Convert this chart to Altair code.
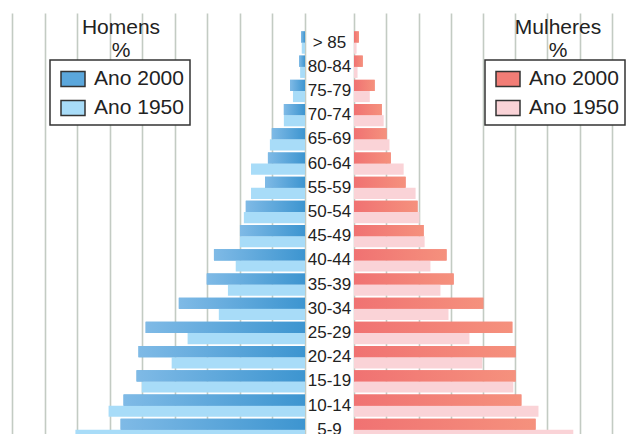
import altair as alt
import pandas as pd

# ---- data (percent of population) ----
ages = ["> 85", "80-84", "75-79", "70-74", "65-69", "60-64", "55-59", "50-54",
        "45-49", "40-44", "35-39", "30-34", "25-29", "20-24", "15-19", "10-14", "5-9"]
homens_2000 = [0.12, 0.18, 0.46, 0.65, 1.02, 1.14, 1.23, 1.82, 2.00, 2.80, 3.02,
               3.88, 4.90, 5.12, 5.18, 5.58, 5.67]
homens_1950 = [0.10, 0.15, 0.37, 0.65, 1.08, 1.66, 1.66, 1.88, 2.00, 2.13, 2.37,
               2.65, 3.61, 4.10, 5.02, 6.04, 7.06]
mulheres_2000 = [0.15, 0.27, 0.64, 0.86, 1.01, 1.14, 1.60, 1.97, 2.16, 2.87, 3.09,
                 4.01, 4.91, 5.01, 5.01, 5.19, 5.63]
mulheres_1950 = [0.08, 0.11, 0.49, 0.92, 1.10, 1.54, 1.91, 2.03, 2.19, 2.37, 2.68,
                 2.93, 3.58, 3.98, 4.94, 5.72, 6.80]
series = ["Ano 2000", "Ano 1950"]
titulo_h = ["Homens", "%"]
titulo_m = ["Mulheres", "%"]


def long_table(v2000, v1950):
    rows = []
    for i, a in enumerate(ages):
        rows.append({"idade": a, "ano": "2000", "serie": "Ano 2000", "valor": v2000[i]})
        rows.append({"idade": a, "ano": "1950", "serie": "Ano 1950", "valor": v1950[i]})
    return pd.DataFrame(rows)


df_h = long_table(homens_2000, homens_1950)
df_m = long_table(mulheres_2000, mulheres_1950)
df_ages = pd.DataFrame({"idade": ages})

FONT = "Liberation Sans"
GRID = "#c3cbc3"
TXT = "#222222"
H = 428
WL, WM, WR = 297, 49, 272

yscale = alt.Scale(domain=ages, paddingInner=0.0785, paddingOuter=0.38, align=1, round=False)
ydef = alt.Y("idade:N", scale=yscale, axis=None)
yoff = alt.YOffset("ano:N", scale=alt.Scale(domain=["2000", "1950"], paddingInner=0, paddingOuter=0))


def legend(x, y):
    return alt.Legend(orient="none", legendX=x, legendY=y, title=None,
                      symbolType="M-1,-0.625H1V0.625H-1Z", symbolSize=576,
                      symbolStrokeColor="#333333", symbolStrokeWidth=1.5,
                      symbolOffset=4,
                      labelFont=FONT, labelFontSize=21, labelColor=TXT,
                      labelOffset=8, padding=6, rowPadding=5, labelLimit=0,
                      strokeColor="#333333", fillColor="white")


def panel(df, width, xmax, reverse, ticks, colors, grad_stops, title, legend_xy, title_x):
    xdef = alt.X("valor:Q",
                 scale=alt.Scale(domain=[0, xmax], reverse=reverse, nice=False, zero=True),
                 axis=alt.Axis(values=ticks, grid=True, gridColor=GRID, gridWidth=1.6,
                               labels=False, ticks=False, domain=False, title=None))
    base = alt.Chart(df)
    bars = base.mark_bar().encode(
        x=xdef, y=ydef, yOffset=yoff,
        color=alt.Color("serie:N", scale=alt.Scale(domain=series, range=colors),
                        legend=legend(*legend_xy)))
    grad = base.transform_filter(alt.datum.ano == "2000").mark_bar(
        fill=alt.LinearGradient(gradient="linear", x1=0, x2=1, y1=0, y2=0,
                                stops=[alt.GradientStop(color=grad_stops[0], offset=0),
                                       alt.GradientStop(color=grad_stops[1], offset=1)])
    ).encode(x=xdef, y=ydef, yOffset=yoff)
    ttl = alt.Chart(pd.DataFrame({"t": [title[0]]})).mark_text(
        text=title, font=FONT, fontSize=21, color=TXT, align="center",
        baseline="alphabetic", lineHeight=23
    ).encode(x=alt.value(title_x), y=alt.value(21))
    return alt.layer(bars, grad, ttl).properties(width=width, height=H)


left = panel(df_h, WL, 9.133, True, list(range(10)), ["#5ba7dc", "#a8dcf8"],
             ["#7fbae6", "#3d95d0"], titulo_h, (42, 47), 113)
right = panel(df_m, WR, WR / 32.25, False, list(range(9)), ["#f27d76", "#fad3d7"],
              ["#f07272", "#f5917d"], titulo_m, (131, 47), 204)

mid = alt.Chart(df_ages).mark_text(font=FONT, fontSize=17, color=TXT, align="center",
                                   baseline="middle").encode(
    y=ydef, text="idade:N").properties(width=WM, height=H)

chart = alt.hconcat(left, mid, right, spacing=0).resolve_scale(
    x="independent", color="independent", y="shared"
).resolve_legend(color="independent").configure(
    padding={"left": 0, "top": 5, "right": 0, "bottom": 0}
).configure_view(strokeWidth=0).configure_legend(strokeWidth=1.5)

chart.save("out.html", embed_options={"renderer": "svg", "actions": False})
